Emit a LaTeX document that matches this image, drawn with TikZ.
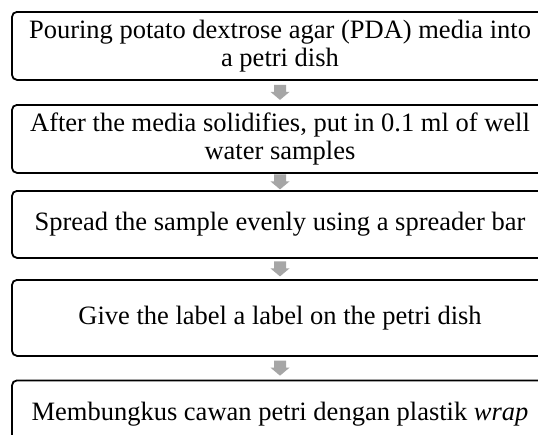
\documentclass[tikz,border=0pt]{standalone}
\usepackage{fontspec}
\setmainfont{Liberation Serif}
\usetikzlibrary{calc}
\definecolor{arrowgray}{HTML}{A6A6A6}
\tikzset{
  stepbox/.style={draw=black, line width=1.8pt, rounded corners=5pt, fill=white,
    minimum width=536pt, inner sep=0pt, anchor=north, align=center,
    font=\fontsize{26.5pt}{28pt}\selectfont},
}
\newcommand\gapArrow[2]{%
  \path ($(#1.south)!0.5!(#2.north)$) coordinate (m#1);
  \fill[arrowgray] ([shift={(-6,-7.5)}]m#1) -- ([shift={(6,-7.5)}]m#1)
     -- ([shift={(6,-0.5)}]m#1) -- ([shift={(9.5,-0.5)}]m#1)
     -- ([shift={(0,7.5)}]m#1) -- ([shift={(-9.5,-0.5)}]m#1)
     -- ([shift={(-6,-0.5)}]m#1) -- cycle;
}
\begin{document}
\begin{tikzpicture}[x=1pt,y=-1pt]
\path[use as bounding box, fill=white] (0,0) rectangle (538,434);
\clip (0,0) rectangle (538,434);
\node[stepbox, minimum height=68pt] (b1) at (280,11)
  {Pouring potato dextrose agar (PDA) media into\\a petri dish};
\node[stepbox, minimum height=68pt] (b2) at (280,104)
  {After the media solidifies, put in 0.1 ml of well\\water samples};
\node[stepbox, minimum height=67pt] (b3) at (280,190)
  {Spread the sample evenly using a spreader bar};
\node[stepbox, minimum height=76pt] (b4) at (280,279)
  {Give the label a label on the petri dish};
\node[stepbox, minimum height=68pt] (b5) at (280,379.5)
  {Membungkus cawan petri dengan plastik \textit{wrap}};
\gapArrow{b1}{b2}
\gapArrow{b2}{b3}
\gapArrow{b3}{b4}
\gapArrow{b4}{b5}
\end{tikzpicture}
\end{document}
